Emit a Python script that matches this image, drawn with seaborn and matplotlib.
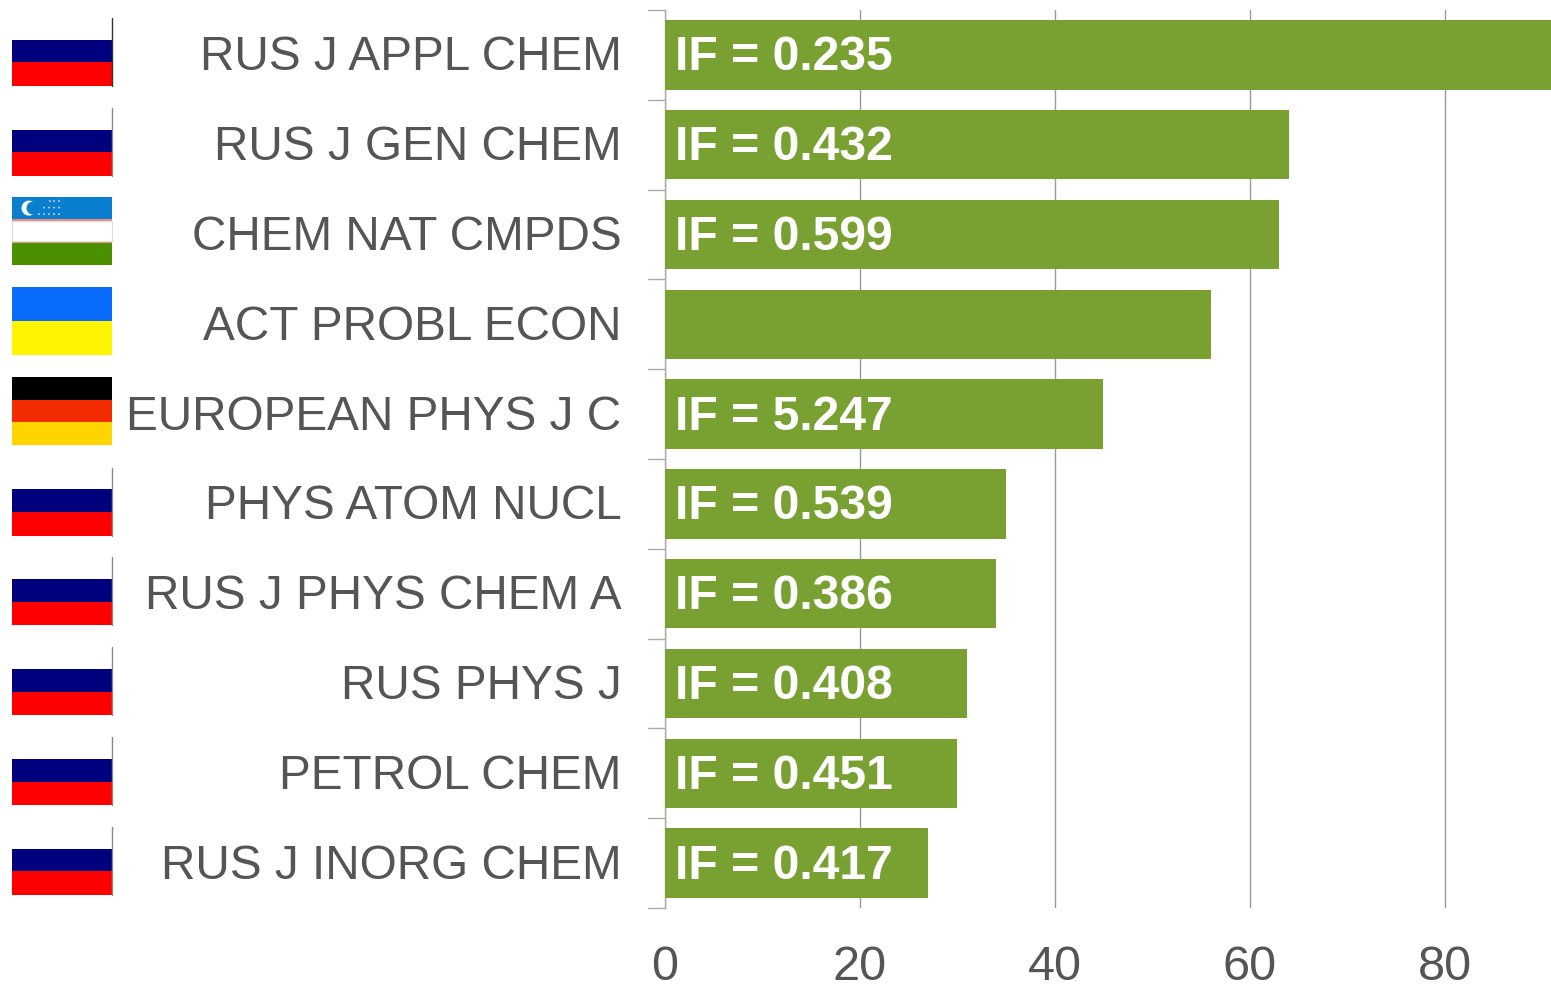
import matplotlib
matplotlib.use("Agg")
import matplotlib.pyplot as plt
from matplotlib.patches import Rectangle, Circle
from matplotlib.transforms import ScaledTranslation
import seaborn as sns
import pandas as pd

journals = ["RUS J APPL CHEM", "RUS J GEN CHEM", "CHEM NAT CMPDS", "ACT PROBL ECON",
            "EUROPEAN PHYS J C", "PHYS ATOM NUCL", "RUS J PHYS CHEM A", "RUS PHYS J",
            "PETROL CHEM", "RUS J INORG CHEM"]
counts = [91, 64, 63, 56, 45, 35, 34, 31, 30, 27]
impact = ["IF = 0.235", "IF = 0.432", "IF = 0.599", "", "IF = 5.247",
          "IF = 0.539", "IF = 0.386", "IF = 0.408", "IF = 0.451", "IF = 0.417"]
flags = ["ru", "ru", "uz", "ua", "de", "ru", "ru", "ru", "ru", "ru"]
ticks = [0, 20, 40, 60, 80]

W, H = 1551, 984
FONT = "Liberation Sans"
sns.set_theme(style="white")
plt.rcParams["font.family"] = [FONT, "DejaVu Sans"]

fig = plt.figure(figsize=(W / 100, H / 100), dpi=100, facecolor="white")
ax = fig.add_axes([664.5 / W, 1 - 908 / H, (1551 - 664.5) / W, (908 - 10) / H])

df = pd.DataFrame({"journal": journals, "count": counts})
sns.barplot(data=df, x="count", y="journal", orient="h", color="#79A132",
            saturation=1, width=0.772, linewidth=0, ax=ax, zorder=3)
ax.set_xlim(0, 90.9)
ax.set_ylim(len(journals) - 0.5, -0.5)
ax.set_xlabel("")
ax.set_ylabel("")
for s in ["top", "right", "bottom"]:
    ax.spines[s].set_visible(False)
ax.spines["left"].set_color("#AAAAAA")
ax.spines["left"].set_linewidth(1)
ax.xaxis.grid(True, color="#999999", lw=1, zorder=1)
ax.set_axisbelow(True)
ax.set_xticks(ticks)
ax.set_xticklabels([str(t) for t in ticks], fontsize=35, color="#555555")
ax.tick_params(axis="x", length=0, pad=27)

ax.set_yticks(range(len(journals)))
ax.set_yticklabels(journals, fontsize=34.4, color="#555555")
ax.tick_params(axis="y", length=0, pad=31)
up = ScaledTranslation(0, 2 / 100, fig.dpi_scale_trans)
for t in ax.get_yticklabels():
    t.set_transform(t.get_transform() + up)
for edge in [i - 0.5 for i in range(len(journals) + 1)]:
    ax.plot([-16 / 886 * 90.9, 0], [edge, edge], color="#AAAAAA", lw=1,
            clip_on=False, zorder=2)

for i, lab in enumerate(impact):
    if lab:
        ax.text(1.1, i, lab, color="white", fontsize=34.6, fontweight="bold",
                va="center_baseline", ha="left", zorder=4,
                transform=ax.transData + up)

colors = {
    "ru": ["#FFFFFF", "#00007E", "#FF0000"],
    "uz": ["#0A7FD0", "#FFFFFF", "#4A9000"],
    "ua": ["#0A6CFF", "#FFF500"],
    "de": ["#000000", "#F32B00", "#FFD500"],
}
fa = fig.add_axes([0, 0, 1, 1], facecolor="none")
fa.set_xlim(0, W)
fa.set_ylim(H, 0)
fa.axis("off")
for i, f in enumerate(flags):
    top = 18 + i * 89.9 - (0 if f == "ru" else 0.7)
    bands = colors[f]
    h = 68.0 / len(bands)
    for j, c in enumerate(bands):
        y0 = top + j * h - (1 if f == "ru" and j > 0 else 0)
        extra = 1 if j < len(bands) - 1 else (1 if f == "ru" else 0)
        fa.add_patch(Rectangle((12, y0), 100, h + extra, fc=c, ec="none"))
    if f == "ru":
        fa.plot([111.5, 111.5], [top, top + 68], color="#333333" if i == 0 else "#888888", lw=1)
    if f == "uz":
        fa.add_patch(Rectangle((12, top + h - 1), 100, 2, fc="#F08A80", ec="none"))
        fa.add_patch(Rectangle((12, top + 2 * h - 1), 100, 2, fc="#E59A80", ec="none"))
        fa.add_patch(Rectangle((12, top + h + 1), 100, h - 2, fc="white", ec="#DDDDDD", lw=0.8))
        fa.add_patch(Circle((29, top + 11), 7.5, fc="white", ec="none"))
        fa.add_patch(Circle((33, top + 11), 6.5, fc="#0A7FD0", ec="none"))
        for row, xs in enumerate([(50, 54, 59), (44, 49, 54, 59), (39, 44, 49, 54, 59)]):
            for cx in xs:
                fa.add_patch(Circle((cx, top + 4 + row * 6.5), 0.9, fc="#CFE6F8", ec="none"))

fig.savefig("out.png", dpi=100)
